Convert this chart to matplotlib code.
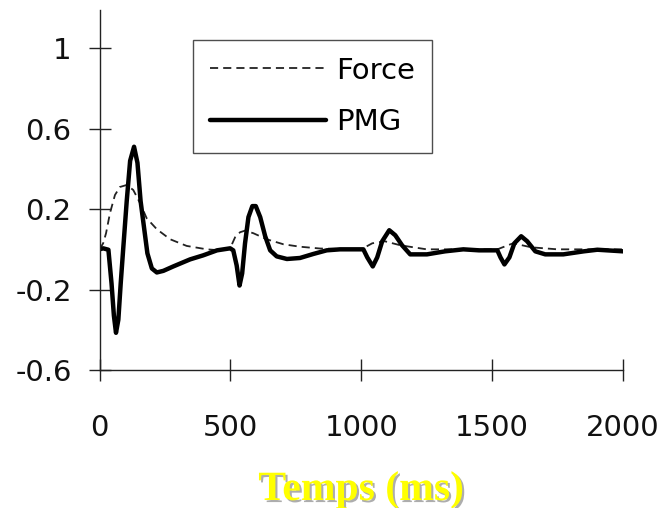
import matplotlib
matplotlib.use("Agg")
import matplotlib.pyplot as plt
import matplotlib.patheffects as pe

# ---- data ----
pmg_t = [0, 14, 34, 46, 55, 63, 72, 81, 91, 104, 117, 132, 145, 157, 170, 183, 200,
         219, 244, 282, 346, 396, 449, 499, 511, 524, 535, 545, 556, 569, 584, 597,
         614, 633, 652, 677, 716, 766, 817, 868, 919, 1008, 1023, 1044, 1061, 1080,
         1107, 1130, 1156, 1187, 1251, 1320, 1390, 1450, 1520, 1532, 1547, 1566,
         1585, 1611, 1634, 1665, 1703, 1772, 1850, 1902, 2000]
pmg_v = [0, 0.005, -0.002, -0.17, -0.33, -0.415, -0.35, -0.17, 0.01, 0.24, 0.44, 0.51,
         0.43, 0.24, 0.11, -0.02, -0.095, -0.115, -0.107, -0.085, -0.05, -0.03,
         -0.005, 0.005, -0.005, -0.08, -0.18, -0.12, 0.03, 0.16, 0.215, 0.215, 0.16,
         0.065, -0.005, -0.035, -0.048, -0.043, -0.023, -0.005, 0.0, 0.0, -0.04,
         -0.085, -0.04, 0.04, 0.095, 0.07, 0.02, -0.025, -0.025, -0.01, 0.0, -0.005,
         -0.005, -0.04, -0.075, -0.04, 0.03, 0.065, 0.04, -0.01, -0.025, -0.025,
         -0.01, -0.002, -0.01]

force_t = [0, 14, 25, 40, 59, 78, 104, 129, 155, 180, 219, 270, 333, 410, 461, 499,
           518, 537, 556, 588, 639, 703, 766, 843, 1000, 1042, 1090, 1150, 1250,
           1400, 1520, 1580, 1650, 1750, 2000]
force_v = [0, 0.03, 0.08, 0.18, 0.27, 0.31, 0.32, 0.295, 0.23, 0.155, 0.10, 0.05,
           0.017, 0.0, -0.005, 0.005, 0.06, 0.085, 0.093, 0.08, 0.05, 0.025, 0.013,
           0.004, 0.0, 0.03, 0.04, 0.02, 0.0, 0.0, 0.0, 0.03, 0.01, 0.0, 0.0]

x_ticks = [0, 500, 1000, 1500, 2000]
y_ticks = [-0.6, -0.2, 0.2, 0.6, 1]
y_tick_labels = ["-0.6", "-0.2", "0.2", "0.6", "1"]
x_label = "Temps (ms)"
series_names = ["Force", "PMG"]

# ---- figure ----
fig = plt.figure(figsize=(6.68, 5.08), dpi=100)
ax = fig.add_axes([99.5 / 668, 138 / 508, (623 - 99.5) / 668, (370 - 10) / 508])

ax.plot(force_t, force_v, color="#222222", lw=1.3, linestyle=(0, (4.5, 2.8)),
        label=series_names[0])
ax.plot(pmg_t, pmg_v, color="black", lw=3.2, solid_joinstyle="round",
        solid_capstyle="round", label=series_names[1])

ax.set_xlim(0, 2000)
ax.set_ylim(-0.6, 1.19)
ax.set_xticks(x_ticks)
ax.set_yticks(y_ticks)
ax.set_yticklabels(y_tick_labels)

for s in ["top", "right"]:
    ax.spines[s].set_visible(False)
for s in ["left", "bottom"]:
    ax.spines[s].set_linewidth(1.0)
    ax.spines[s].set_color("#222222")

ax.tick_params(axis="both", direction="inout", length=16, width=1.0, color="#222222",
               labelsize=21, labelcolor="#111111")
ax.tick_params(axis="x", pad=24)
ax.tick_params(axis="y", pad=12)
for lab in ax.get_xticklabels() + ax.get_yticklabels():
    lab.set_family("DejaVu Sans")

leg = ax.legend(loc="upper left", bbox_to_anchor=(193 / 668, 1 - 40 / 508),
                bbox_transform=fig.transFigure, frameon=True, fancybox=False,
                prop={"family": "DejaVu Sans", "size": 21}, handlelength=4.0,
                handletextpad=0.35, labelspacing=0.8, borderpad=0.57,
                borderaxespad=0.0)
leg.get_frame().set_edgecolor("#222222")
leg.get_frame().set_linewidth(1.0)

fig.text(361 / 668, 8 / 508, x_label, ha="center", va="baseline",
         family="Liberation Serif", weight="bold", size=30, color="#FFFF00",
         path_effects=[pe.withSimplePatchShadow(offset=(1.5, -1.5),
                                                 shadow_rgbFace="#999999", alpha=0.8)])

fig.savefig("out.png", dpi=100)
